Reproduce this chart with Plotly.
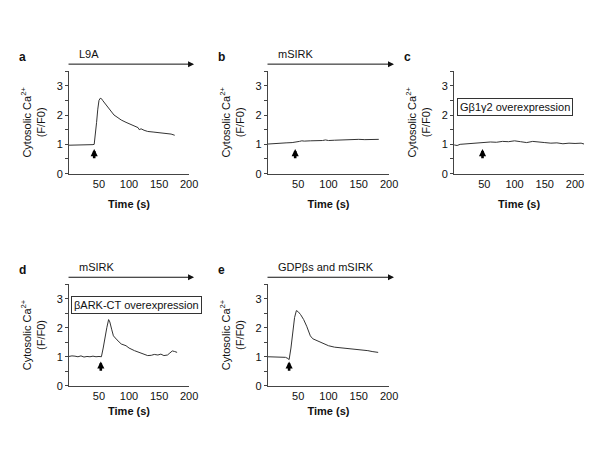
import plotly.graph_objects as go

# ---- data ----
t_a = [0, 10, 20, 30, 40, 42, 44, 46, 48, 50, 52, 54, 56, 60, 65, 70, 75, 80, 87, 95, 104, 110, 115, 117, 120, 125, 131, 140, 150, 158, 165, 170, 176]
v_a = [0.97, 0.97, 0.98, 0.98, 0.99, 1.0, 1.3, 1.75, 2.2, 2.5, 2.57, 2.56, 2.5, 2.4, 2.27, 2.12, 2.0, 1.93, 1.83, 1.75, 1.67, 1.62, 1.57, 1.5, 1.53, 1.48, 1.44, 1.42, 1.40, 1.39, 1.37, 1.35, 1.31]

t_b = [0, 10, 20, 30, 40, 48, 52, 56, 60, 70, 80, 90, 95, 100, 110, 120, 130, 140, 150, 160, 170, 183]
v_b = [1.01, 1.03, 1.04, 1.05, 1.06, 1.07, 1.10, 1.12, 1.11, 1.12, 1.12, 1.13, 1.15, 1.13, 1.14, 1.15, 1.16, 1.15, 1.17, 1.16, 1.16, 1.17]

t_c = [0, 5, 10, 20, 30, 40, 50, 60, 70, 80, 90, 100, 110, 120, 130, 140, 150, 160, 170, 180, 190, 200, 210, 215]
v_c = [0.98, 0.96, 1.0, 1.02, 1.04, 1.05, 1.06, 1.08, 1.07, 1.10, 1.09, 1.12, 1.09, 1.06, 1.10, 1.07, 1.06, 1.04, 1.05, 1.02, 1.04, 1.03, 1.04, 1.01]

t_d = [0, 5, 10, 15, 20, 25, 30, 35, 40, 45, 50, 54, 57, 60, 63, 66, 68, 71, 74, 80, 87, 95, 100, 109, 115, 120, 125, 131, 137, 142, 148, 153, 158, 164, 168, 172, 176, 180]
v_d = [1.01, 1.03, 1.02, 1.0, 1.03, 0.99, 1.01, 1.0, 1.02, 1.0, 1.01, 1.0, 1.3, 1.7, 2.0, 2.28, 2.2, 1.95, 1.72, 1.58, 1.44, 1.38, 1.3, 1.21, 1.16, 1.12, 1.07, 1.04, 1.05, 1.08, 1.06, 1.09, 1.04, 1.06, 1.13, 1.2, 1.18, 1.15]

t_e = [0, 10, 20, 29, 33, 35, 38, 41, 44, 47, 50, 54, 59, 64, 70, 74, 78, 85, 92, 100, 110, 120, 132, 140, 150, 159, 165, 172, 182]
v_e = [1.0, 1.0, 1.0, 0.98, 0.94, 0.9, 1.3, 1.9, 2.35, 2.59, 2.55, 2.45, 2.28, 2.05, 1.72, 1.62, 1.58, 1.52, 1.45, 1.38, 1.33, 1.31, 1.29, 1.27, 1.24, 1.21, 1.21, 1.18, 1.15]

panel_letters = ["a", "b", "c", "d", "e"]
stim_times = [42, 45, 47, 53, 35]
treatments = ["L9A", "mSIRK", None, "mSIRK", "GDPβs and mSIRK"]
boxes = [None, None, "Gβ1γ2 overexpression", "βARK-CT overexpression", None]
x_ranges = [[0, 200], [0, 200], [0, 215], [0, 200], [0, 200]]
x_ticks = [50, 100, 150, 200]
y_ticks = [0, 1, 2, 3]

series = [(t_a, v_a), (t_b, v_b), (t_c, v_c), (t_d, v_d), (t_e, v_e)]

W, H = 600, 450
# pixel boxes for each panel: (x0, x1, ytop, ybottom)
px = [(70, 192, 72, 176), (272, 395, 72, 176), (461, 593, 72, 176),
      (70, 192, 288, 391), (272, 395, 288, 391)]
box_dy = [0, 0, 36, 21, 0]

fig = go.Figure()
FONT = "Liberation Sans, Arial, sans-serif"
annotations = []

for i, ((tt, vv), (x0, x1, yt, yb)) in enumerate(zip(series, px)):
    n = "" if i == 0 else str(i + 1)
    xa, ya = "x" + n, "y" + n
    fig.add_trace(go.Scatter(x=tt, y=vv, mode="lines", xaxis=xa, yaxis=ya,
                             line=dict(color="#333333", width=1), showlegend=False))
    fig.layout["xaxis" + n] = dict(
        domain=[x0 / W, x1 / W], anchor=ya, range=x_ranges[i],
        tickvals=x_ticks, showline=True, linecolor="#444444", linewidth=1,
        showgrid=False, zeroline=False, ticks="",
        tickfont=dict(family=FONT, size=11, color="#111111"),
        title=dict(text="Time (s)", font=dict(family=FONT, size=11, color="#111111", weight="bold"),
                   standoff=11 if i < 3 else 6))
    fig.layout["yaxis" + n] = dict(
        domain=[1 - yb / H, 1 - yt / H], anchor=xa, range=[0, 3.5],
        tickvals=y_ticks, ticks="outside", ticklen=3,
        tickcolor="#444444", showline=True, linecolor="#444444", linewidth=1,
        minor=dict(ticks="outside", dtick=0.5, ticklen=3, tickcolor="#444444", showgrid=False),
        showgrid=False, zeroline=False,
        tickfont=dict(family=FONT, size=11, color="#111111"),
        title=dict(text="Cytosolic Ca<sup>2+</sup><br>(F/F0)",
                   font=dict(family=FONT, size=11, color="#111111"), standoff=8))
    # stimulus arrow
    annotations.append(dict(x=stim_times[i], y=0.84, ax=stim_times[i], ay=0.47,
                            xref=xa, yref=ya, axref=xa, ayref=ya, text="",
                            showarrow=True, arrowhead=2, arrowsize=0.55, arrowwidth=2.6,
                            arrowcolor="#000000"))
    # panel letter
    annotations.append(dict(x=(x0 - 47) / W, y=1 - (yt - 14) / H, xref="paper", yref="paper",
                            text="<b>" + panel_letters[i] + "</b>", showarrow=False,
                            font=dict(family=FONT, size=12, color="#111111"),
                            xanchor="center", yanchor="middle"))
    if treatments[i]:
        ay_px = yt - 7
        annotations.append(dict(x=(x1 + 5) / W, y=1 - ay_px / H, ax=-(x1 + 5 - x0), ay=0,
                                xref="paper", yref="paper", axref="pixel", ayref="pixel",
                                text="", showarrow=True, arrowhead=2, arrowsize=1.2,
                                arrowwidth=1, arrowcolor="#111111"))
        annotations.append(dict(x=(x0 + 8) / W, y=1 - (ay_px - 10) / H, xref="paper", yref="paper",
                                text=treatments[i], showarrow=False, xanchor="left", yanchor="middle",
                                font=dict(family=FONT, size=11, color="#111111")))
    if boxes[i]:
        cx = (x0 + 62) / W if i == 2 else (x0 + 69) / W
        cy = 1 - (yt + box_dy[i]) / H
        annotations.append(dict(x=cx, y=cy, xref="paper", yref="paper", text=boxes[i],
                                showarrow=False, bordercolor="#333333", borderwidth=1,
                                borderpad=2, bgcolor="white", xanchor="center", yanchor="middle",
                                font=dict(family=FONT, size=11, color="#111111")))

fig.update_layout(width=W, height=H, margin=dict(l=0, r=0, t=0, b=0),
                  paper_bgcolor="white", plot_bgcolor="white",
                  annotations=annotations, font=dict(family=FONT))
fig.write_html("out.html", config={"displayModeBar": False},
               post_script="document.body.style.margin='0';document.body.style.overflow='hidden';")
